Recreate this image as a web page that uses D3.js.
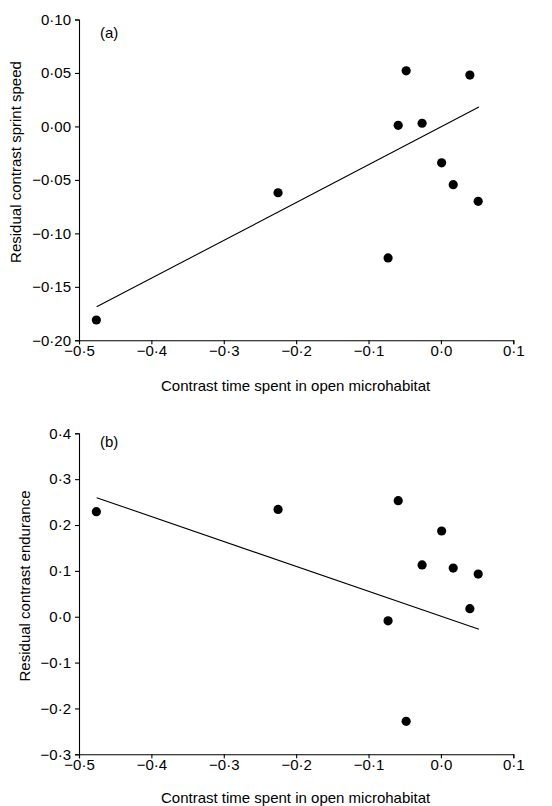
<!DOCTYPE html>
<html>
<head>
<meta charset="utf-8">
<script src="https://cdn.jsdelivr.net/npm/d3@7"></script>
<style>
body{margin:0;background:#fff;}
svg{display:block;}
text{font-family:"Liberation Sans",Arial,sans-serif;fill:#000;}
</style>
</head>
<body>
<svg id="chart" width="552" height="806"></svg>
<script>
// Shared x values (contrast time spent in open microhabitat)
const xValues = [-0.476, -0.225, -0.073, -0.059, -0.048, -0.026, 0.001, 0.017, 0.040, 0.0515];
// Panel (a): residual contrast sprint speed
const sprintValues = [-0.181, -0.062, -0.123, 0.001, 0.052, 0.003, -0.034, -0.0545, 0.048, -0.070];
// Panel (b): residual contrast endurance
const enduranceValues = [0.229, 0.234, -0.009, 0.253, -0.228, 0.113, 0.187, 0.106, 0.0175, 0.093];
// Regression line endpoints
const lineX = [-0.4756, 0.0525];
const sprintLineY = [-0.1687, 0.0181];
const enduranceLineY = [0.2596, -0.0274];
// Ticks
const xTicks = [-0.5, -0.4, -0.3, -0.2, -0.1, 0.0, 0.1];
const sprintTicks = [0.10, 0.05, 0.00, -0.05, -0.10, -0.15, -0.20];
const enduranceTicks = [0.4, 0.3, 0.2, 0.1, 0.0, -0.1, -0.2, -0.3];

const svg = d3.select("#chart");
const FS = 15;

function panel(opts) {
  const x = d3.scaleLinear().domain([-0.5, 0.1]).range([79, 513.3]);
  const y = d3.scaleLinear().domain(opts.yDomain).range(opts.yRange);
  const g = svg.append("g");
  const f = d3.format(opts.yFmt);
  const fx = d3.format(".1f");
  const conv = s => s.replace(".", "\u00B7").replace("-", "\u2212");

  const xa = g.append("g").attr("transform", `translate(0,${opts.yRange[0]})`)
    .call(d3.axisBottom(x).tickValues(xTicks).tickSize(4).tickPadding(1).tickFormat(d => conv(fx(d))));
  const ya = g.append("g").attr("transform", `translate(79,0)`)
    .call(d3.axisLeft(y).tickValues(opts.yTicks).tickSize(4).tickPadding(4).tickFormat(d => conv(f(d))));
  [xa, ya].forEach(a => {
    a.select(".domain").attr("stroke", "#000").attr("stroke-width", 1.1);
    a.selectAll(".tick line").attr("stroke", "#000").attr("stroke-width", 1.1);
    a.selectAll(".tick text").attr("font-size", FS).attr("fill", "#000")
      .attr("font-family", '"Liberation Sans",Arial,sans-serif');
  });

  g.append("line")
    .attr("x1", x(lineX[0])).attr("y1", y(opts.lineY[0]))
    .attr("x2", x(lineX[1])).attr("y2", y(opts.lineY[1]))
    .attr("stroke", "#000").attr("stroke-width", 1.1);

  g.selectAll("circle").data(xValues.map((v, i) => [v, opts.values[i]])).enter()
    .append("circle").attr("cx", d => x(d[0])).attr("cy", d => y(d[1])).attr("r", 4.6).attr("fill", "#000");

  g.append("text").attr("x", 100).attr("y", opts.labelY).attr("font-size", FS).text(opts.label);

  g.append("text").attr("x", (79 + 513.3) / 2 - 0.5).attr("y", opts.xTitleY).attr("text-anchor", "middle")
    .attr("font-size", FS).text("Contrast time spent in open microhabitat");

  g.append("text").attr("transform", `translate(${opts.yTitleX},${opts.yTitleY}) rotate(-90)`)
    .attr("text-anchor", "middle").attr("font-size", FS).text(opts.yTitle);
}

panel({
  yDomain: [-0.20, 0.10], yRange: [340.3, 19.5], yTicks: sprintTicks, yFmt: ".2f",
  values: sprintValues, lineY: sprintLineY, label: "(a)", labelY: 38,
  xTitleY: 391, yTitleX: 21, yTitleY: 162, yTitle: "Residual contrast sprint speed"
});
panel({
  yDomain: [-0.3, 0.4], yRange: [754.3, 433.3], yTicks: enduranceTicks, yFmt: ".1f",
  values: enduranceValues, lineY: enduranceLineY, label: "(b)", labelY: 447,
  xTitleY: 803, yTitleX: 29.5, yTitleY: 586, yTitle: "Residual contrast endurance"
});
</script>
</body>
</html>
